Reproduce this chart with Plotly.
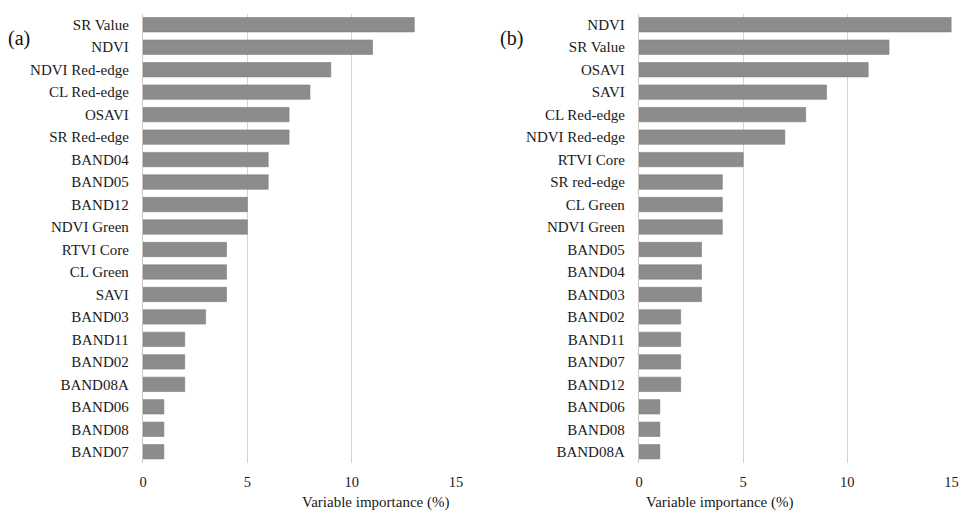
import plotly.graph_objects as go

cats_a = ["SR Value", "NDVI", "NDVI Red-edge", "CL Red-edge", "OSAVI", "SR Red-edge",
          "BAND04", "BAND05", "BAND12", "NDVI Green", "RTVI Core", "CL Green", "SAVI",
          "BAND03", "BAND11", "BAND02", "BAND08A", "BAND06", "BAND08", "BAND07"]
vals_a = [13, 11, 9, 8, 7, 7, 6, 6, 5, 5, 4, 4, 4, 3, 2, 2, 2, 1, 1, 1]

cats_b = ["NDVI", "SR Value", "OSAVI", "SAVI", "CL Red-edge", "NDVI Red-edge", "RTVI Core",
          "SR red-edge", "CL Green", "NDVI Green", "BAND05", "BAND04", "BAND03", "BAND02",
          "BAND11", "BAND07", "BAND12", "BAND06", "BAND08", "BAND08A"]
vals_b = [15, 12, 11, 9, 8, 7, 5, 4, 4, 4, 3, 3, 3, 2, 2, 2, 2, 1, 1, 1]

x_ticks = [0, 5, 10, 15]
x_title = "Variable importance (%)"
panel_labels = ["(a)", "(b)"]

W, H = 961, 523
FONT = "Times New Roman, Liberation Serif, serif"
BAR = "#8c8c8c"
FS = 15


def px(x):
    return x / W


def py(y):
    return 1 - y / H


fig = go.Figure()
fig.add_trace(go.Bar(y=cats_a, x=vals_a, orientation="h", xaxis="x", yaxis="y",
                     marker=dict(color=BAR, line=dict(color="#7c7c7c", width=0.6)),
                     showlegend=False))
fig.add_trace(go.Bar(y=cats_b, x=vals_b, orientation="h", xaxis="x2", yaxis="y2",
                     marker=dict(color=BAR, line=dict(color="#7c7c7c", width=0.6)),
                     showlegend=False))

ytop = py(13.5)
ybot = py(463)
xa = [px(143), px(456)]
xb = [px(639), px(951.5)]

xax = dict(range=[0, 15.0], tickvals=x_ticks, showgrid=True, gridcolor="#d4d4d4", gridwidth=1.3,
           zeroline=False, showline=False, ticks="outside", ticklen=6, tickcolor="rgba(0,0,0,0)",
           automargin=False,
           tickfont=dict(family=FONT, size=14.5, color="#1a1a1a"))
yax = dict(autorange="reversed", showgrid=False, showline=True, linecolor="#c8c8c8", linewidth=1.4,
           ticks="outside", ticklen=10, tickcolor="rgba(0,0,0,0)", automargin=False,
           tickfont=dict(family=FONT, size=FS, color="#1a1a1a"), domain=[ybot, ytop])

fig.update_layout(
    width=W, height=H, margin=dict(l=0, r=0, t=0, b=0),
    paper_bgcolor="white", plot_bgcolor="white", bargap=0.36,
    xaxis=dict(xax, domain=xa, anchor="y"),
    yaxis=dict(yax, anchor="x"),
    xaxis2=dict(xax, domain=xb, anchor="y2"),
    yaxis2=dict(yax, anchor="x2"),
    annotations=[
        dict(text=x_title, x=(xa[0] + xa[1]) / 2, y=py(513), xref="paper", yref="paper",
             showarrow=False, font=dict(family=FONT, size=FS, color="#1a1a1a")),
        dict(text=x_title, x=(xb[0] + xb[1]) / 2, y=py(513), xref="paper", yref="paper",
             showarrow=False, font=dict(family=FONT, size=FS, color="#1a1a1a")),
        dict(text=panel_labels[0], x=px(6), y=py(25), xref="paper", yref="paper", xanchor="left",
             showarrow=False, font=dict(family=FONT, size=20, color="#111")),
        dict(text=panel_labels[1], x=px(498), y=py(25), xref="paper", yref="paper", xanchor="left",
             showarrow=False, font=dict(family=FONT, size=20, color="#111")),
    ],
)

fig.write_html("out.html", config={"displayModeBar": False},
               post_script="document.body.style.margin='0';document.body.style.overflow='hidden';")
